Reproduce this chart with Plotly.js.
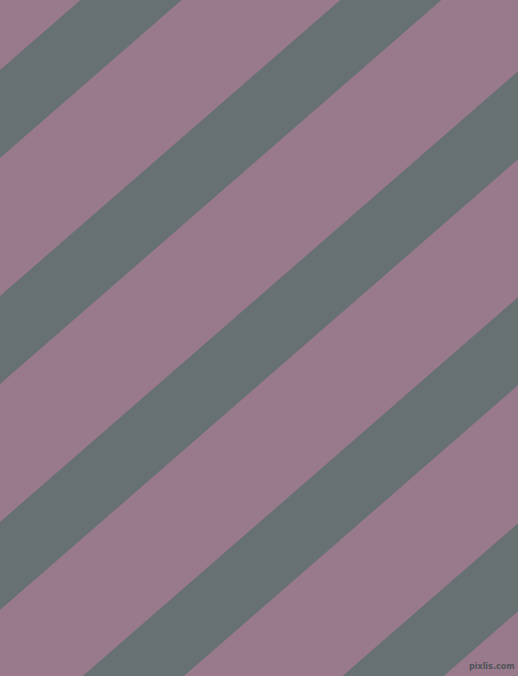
<!DOCTYPE html>
<html>
<head>
<meta charset="utf-8">
<script src="https://cdn.plot.ly/plotly-3.0.1.min.js"></script>
<style>
    html, body { margin: 0; padding: 0; background: #997a8d; }
    #stripes { width: 518px; height: 676px; }
</style>
</head>
<body>
<div id="stripes"></div>
<script>
// Stripe band starts, read where each band's upper edge meets the left edge (px from top)
const stripeStarts = [70, 296, 522, 748, 974];
const stripeBand = 88;       // band height measured along the left edge
const stripeSlope = 0.87;    // rise per px going right

const BG_COLOR = '#997a8d';
const STRIPE_COLOR = '#677171';

function bandTrace(start) {
    const xs = [-60, 600, 600, -60, -60];
    const ys = [
        start + stripeSlope * 60,
        start - stripeSlope * 600,
        start + stripeBand - stripeSlope * 600,
        start + stripeBand + stripeSlope * 60,
        start + stripeSlope * 60
    ];
    return {
        type: 'scatter',
        mode: 'lines',
        x: xs,
        y: ys,
        fill: 'toself',
        fillcolor: STRIPE_COLOR,
        line: { width: 0, color: STRIPE_COLOR },
        hoverinfo: 'skip',
        showlegend: false
    };
}

Plotly.newPlot('stripes', stripeStarts.map(bandTrace), {
    width: 518,
    height: 676,
    margin: { l: 0, r: 0, t: 0, b: 0 },
    paper_bgcolor: BG_COLOR,
    plot_bgcolor: BG_COLOR,
    xaxis: { range: [0, 518], visible: false, fixedrange: true },
    yaxis: { range: [676, 0], visible: false, fixedrange: true },
    annotations: [{
        text: '<b>pixlis.com</b>',
        xref: 'paper', yref: 'paper',
        x: 1, y: 0,
        xanchor: 'right', yanchor: 'bottom',
        xshift: -1, yshift: 3,
        showarrow: false,
        font: { family: 'DejaVu Sans', size: 8, color: '#4f5456' }
    }]
}, { displayModeBar: false, staticPlot: true });
</script>
</body>
</html>
